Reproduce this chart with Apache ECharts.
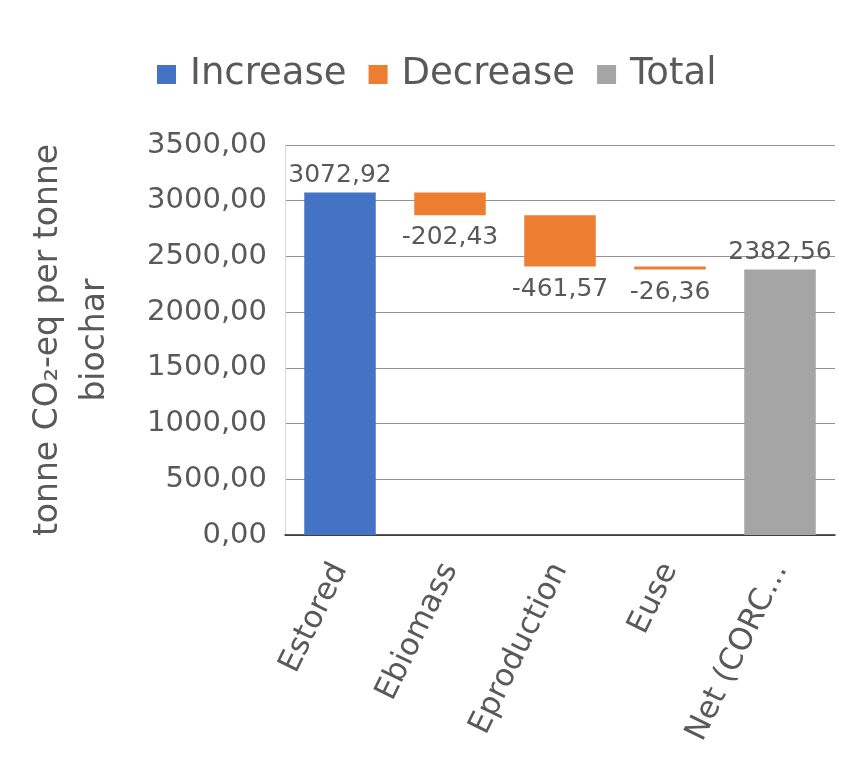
<!DOCTYPE html>
<html>
<head>
<meta charset="utf-8">
<script src="https://cdn.jsdelivr.net/npm/echarts@6/dist/echarts.min.js"></script>
<style>html,body{margin:0;padding:0;background:#fff;}#c{width:857px;height:762px;}</style>
</head>
<body>
<div id="c"></div>
<script>
const categories = ['Estored', 'Ebiomass', 'Eproduction', 'Euse', 'Net (CORC...'];
const increaseValues = [3072.92, null, null, null, null];
const decreaseValues = [null, 202.43, 461.57, 26.36, null];
const totalValues = [null, null, null, null, 2382.56];
const legendNames = ['Increase', 'Decrease', 'Total'];
const yMin = 0, yMax = 3500, yStep = 500;

// transparent base for the floating waterfall bars
const baseValues = [];
let running = 0;
for (let i = 0; i < categories.length; i++) {
  if (increaseValues[i] != null) { baseValues.push(running); running += increaseValues[i]; }
  else if (decreaseValues[i] != null) { running -= decreaseValues[i]; baseValues.push(running); }
  else { baseValues.push(0); }
}
const dash = a => a.map(v => v == null ? '-' : v);
const fmt = v => Number(v).toFixed(2).replace('.', ',');
const FONT = 'DejaVu Sans';
const TXT = '#595959';
const labelStyle = { show: true, fontFamily: FONT, fontSize: 25, color: TXT };

const chart = echarts.init(document.getElementById('c'));
chart.setOption({
  animation: false,
  backgroundColor: '#ffffff',
  textStyle: { fontFamily: FONT },
  legend: {
    data: legendNames,
    left: 157, top: 56, padding: 0,
    itemWidth: 19, itemHeight: 19, itemGap: 22,
    icon: 'rect',
    textStyle: { fontFamily: FONT, fontSize: 37, color: TXT, padding: [0, 0, 0, 9] }
  },
  grid: { left: 285, right: 22, top: 145, bottom: 227 },
  xAxis: {
    type: 'category',
    data: categories,
    axisLine: { lineStyle: { color: '#262626', width: 1.5 } },
    axisTick: { show: false },
    axisLabel: { interval: 0, rotate: 64, margin: 30, fontFamily: FONT, fontSize: 31, color: TXT }
  },
  yAxis: {
    type: 'value',
    min: yMin, max: yMax, interval: yStep,
    name: 'tonne CO₂-eq per tonne\nbiochar',
    nameLocation: 'middle',
    nameRotate: 90,
    nameGap: 166,
    nameTextStyle: { fontFamily: FONT, fontSize: 33, color: TXT, lineHeight: 47, align: 'center' },
    axisLine: { show: true, lineStyle: { color: '#d9d9d9', width: 1 } },
    axisTick: { show: false },
    splitLine: { lineStyle: { color: '#939393', width: 1 } },
    axisLabel: { margin: 18, fontFamily: FONT, fontSize: 29, color: TXT, formatter: v => fmt(v) }
  },
  series: [
    {
      name: 'base', type: 'bar', stack: 'wf', silent: true,
      itemStyle: { color: 'rgba(0,0,0,0)' },
      barWidth: '65%',
      data: baseValues
    },
    {
      name: 'Increase', type: 'bar', stack: 'wf',
      itemStyle: { color: '#4472C4' },
      label: Object.assign({}, labelStyle, { position: 'top', distance: 5, formatter: p => fmt(p.value) }),
      data: dash(increaseValues)
    },
    {
      name: 'Decrease', type: 'bar', stack: 'wf',
      itemStyle: { color: '#ED7D31' },
      label: Object.assign({}, labelStyle, { position: 'bottom', distance: 10, formatter: p => '-' + fmt(p.value) }),
      data: dash(decreaseValues)
    },
    {
      name: 'Total', type: 'bar', stack: 'wf',
      itemStyle: { color: '#A5A5A5' },
      label: Object.assign({}, labelStyle, { position: 'top', distance: 5, formatter: p => fmt(p.value) }),
      data: dash(totalValues)
    }
  ]
});
</script>
</body>
</html>
